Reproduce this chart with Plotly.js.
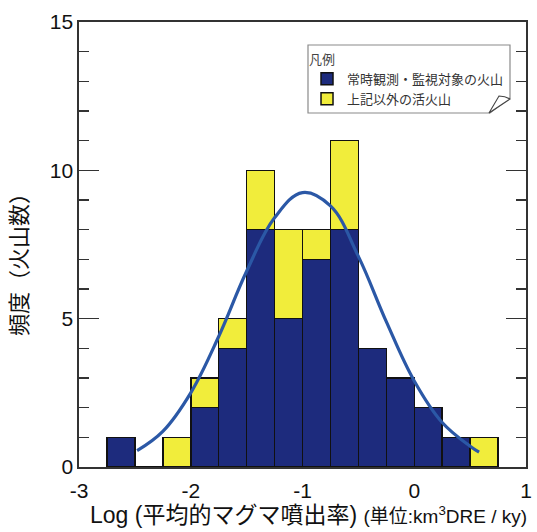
<!DOCTYPE html>
<html>
<head>
<meta charset="utf-8">
<script src="https://cdn.plot.ly/plotly-3.0.1.min.js"></script>
<style>html,body{margin:0;padding:0;background:#fff;}#chart{width:537px;height:532px;}</style>
</head>
<body>
<div id="chart"></div>
<script>
// Histogram bins (lower edge of each 0.25-wide bin, log10 of mean magma discharge rate)
const binLeft = [-2.75, -2.5, -2.25, -2.0, -1.75, -1.5, -1.25, -1.0, -0.75, -0.5, -0.25, 0.0, 0.25, 0.5];
const monitored = [1, 0, 0, 2, 4, 8, 5, 7, 8, 4, 3, 2, 1, 0];   // 常時観測・監視対象の火山
const otherActive = [0, 0, 1, 1, 1, 2, 3, 1, 3, 0, 0, 0, 0, 1]; // 上記以外の活火山
// Fitted curve, points
const curveX = [-2.48, -2.25, -2.0, -1.75, -1.5, -1.25, -1.0, -0.75, -0.5, -0.25, 0.0, 0.25, 0.5, 0.58];
const curveY = [0.55, 1.2, 2.5, 4.4, 6.6, 8.4, 9.25, 8.8, 7.1, 4.9, 2.9, 1.5, 0.7, 0.5];
const xTicks = [-3, -2, -1, 0, 1];
const yTicks = [0, 5, 10, 15];
const seriesNames = ['常時観測・監視対象の火山', '上記以外の活火山'];

const binWidth = 0.25;
const centers = binLeft.map(v => v + binWidth / 2);
const FONT = 'Liberation Sans, Arial, "Noto Sans CJK JP", sans-serif';
const CJK = '"Noto Sans CJK JP", sans-serif';

// plot-area geometry (pixels) for decoration placement
const M = {l: 79, r: 11, t: 22, b: 65};
const W = 537 - M.l - M.r, H = 532 - M.t - M.b;
const px = x => ((x - M.l) / W).toFixed(4);
const py = y => ((532 - M.b - y) / H).toFixed(4);
const pt = (x, y) => px(x) + ',' + py(y);

const traces = [
  {type: 'bar', x: centers, y: monitored, width: binWidth, name: seriesNames[0],
   marker: {color: '#1d2b7d', line: {color: '#111', width: 1.5}}},
  {type: 'bar', x: centers, y: otherActive, width: binWidth, name: seriesNames[1],
   marker: {color: '#f1ed3b', line: {color: '#111', width: 1.5}}},
  {type: 'scatter', mode: 'lines', x: curveX, y: curveY, showlegend: false,
   line: {color: '#2b58a6', width: 3.2, shape: 'spline', smoothing: 1.1}}
];

const tickCol = '#333';
const layout = {
  width: 537, height: 532,
  margin: M,
  paper_bgcolor: '#fff', plot_bgcolor: '#fff',
  barmode: 'stack', bargap: 0,
  font: {family: FONT, color: '#111'},
  xaxis: {range: [-3, 1], tickvals: xTicks, ticktext: xTicks.map(String), ticks: '',
          ticklabelstandoff: 4,
          showgrid: false, zeroline: false, showline: true, mirror: true,
          linecolor: tickCol, linewidth: 1.6, tickfont: {size: 21, family: FONT, color: '#111'}},
  xaxis2: {range: [-3, 1], overlaying: 'x', side: 'top', anchor: 'y', ticks: 'inside',
           tick0: -3, dtick: 1, ticklen: 19, tickwidth: 1.4, tickcolor: tickCol,
           minor: {tick0: -3, dtick: 0.25, ticks: 'inside', ticklen: 10, tickwidth: 1.4, tickcolor: tickCol, showgrid: false},
           showticklabels: false, showgrid: false, zeroline: false, showline: false},
  yaxis: {range: [0, 15], tickvals: yTicks, ticks: 'inside', ticklen: 20, tickwidth: 1.4,
          tickcolor: tickCol, minor: {dtick: 1, ticks: 'inside', ticklen: 10, tickwidth: 1.4, tickcolor: tickCol, showgrid: false},
          showgrid: false, zeroline: false, showline: true, mirror: 'ticks',
          linecolor: tickCol, linewidth: 1.6, tickfont: {size: 21, family: FONT, color: '#111'}},
  legend: {x: Number(px(307)), y: Number(py(47)), xanchor: 'left', yanchor: 'top',
           bgcolor: 'rgba(0,0,0,0)', borderwidth: 0, traceorder: 'normal',
           font: {size: 13, family: CJK, color: '#333'},
           title: {text: '凡例', font: {size: 13, family: CJK, color: '#444'}},
           itemwidth: 30, tracegroupgap: 0},
  shapes: [
    {type: 'path', xref: 'paper', yref: 'paper', layer: 'above',
     path: 'M' + pt(308, 45) + 'L' + pt(510, 45) + 'L' + pt(510, 98) + 'L' + pt(490, 113) + 'L' + pt(308, 113) + 'Z',
     fillcolor: '#fff', line: {color: '#8a8a8a', width: 1.2}},
    {type: 'path', xref: 'paper', yref: 'paper', layer: 'above',
     path: 'M' + pt(489, 113) + 'L' + pt(499, 96) + 'Q' + pt(505, 96) + ' ' + pt(510, 99) + 'Z',
     fillcolor: '#fff', line: {color: '#444', width: 1.1}}
  ],
  annotations: [
    {xref: 'paper', yref: 'paper', x: Number(px(35)), y: Number(py(259)), xanchor: 'right', yanchor: 'middle',
     textangle: -90, showarrow: false,
     text: '頻度（火山数）', font: {size: 22, family: CJK, color: '#111'}},
    {xref: 'paper', yref: 'paper', x: Number(px(88)), y: Number(py(515)), xanchor: 'left', yanchor: 'middle',
     showarrow: false,
     text: 'Log (平均的マグマ噴出率) <span style="font-size:19px">(単位:km<sup>3</sup>DRE / ky)</span>',
     font: {size: 23, family: FONT, color: '#111'}}
  ]
};

Plotly.newPlot('chart', traces, layout, {staticPlot: true, displayModeBar: false});
</script>
</body>
</html>
